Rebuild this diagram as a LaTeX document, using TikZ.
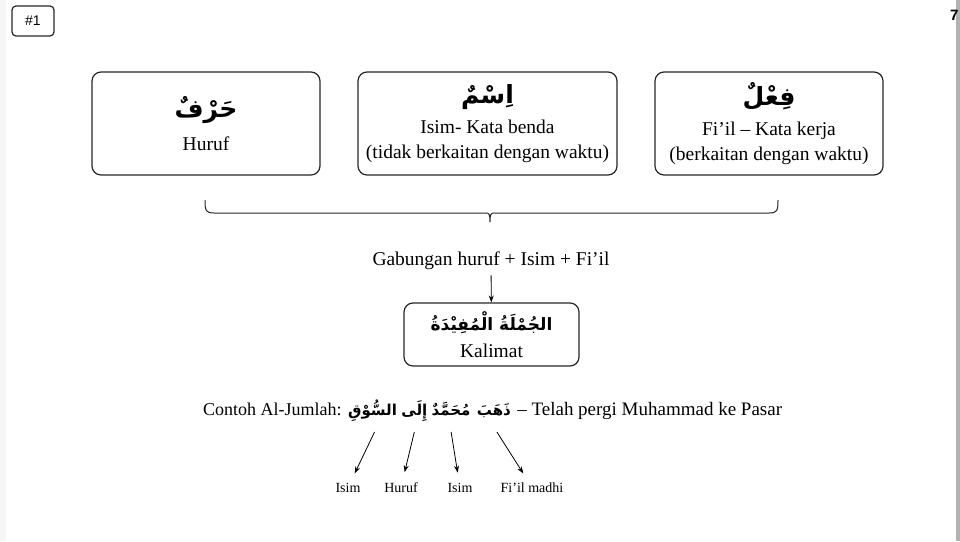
\documentclass[tikz,border=0pt]{standalone}
\usepackage{fontspec}
\usepackage{tikz}
\usetikzlibrary{arrows.meta}
\setmainfont{Liberation Serif}
\newfontfamily\arabicfont[Script=Arabic]{DejaVu Sans}
\newfontfamily\labelfont{Liberation Sans}
\TeXXeTstate=1
\newcommand{\arabbesar}{\arabicfont\bfseries\fontsize{25}{29}\selectfont}
\newcommand{\arabsedang}{\arabicfont\bfseries\fontsize{17}{20}\selectfont}
\newcommand{\arabkecil}{\arabicfont\bfseries\fontsize{15}{18}\selectfont}

\begin{document}
\begin{tikzpicture}
    [x=1pt,y=-1pt,
    kotak/.style={draw=black!85,line width=1.2pt,rounded corners=9pt,align=center,inner sep=0pt,font=\fontsize{19.5}{25}\selectfont},
    teks/.style={font=\fontsize{19.5}{22}\selectfont,inner sep=0pt},
    kata/.style={inner sep=0pt,anchor=base west,font=\arabkecil},
    kecil/.style={font=\fontsize{14}{16}\selectfont,inner sep=1pt},
    panah/.style={-{Stealth[length=7pt,width=5pt]},line width=0.8pt}]

\useasboundingbox (0,0) rectangle (960,541);

%page edges
\fill[gray!7] (0,0) rectangle (6,541);
\fill[gray!60] (956,0) rectangle (960,541);
\node[anchor=west,inner sep=0pt,font=\labelfont\bfseries\fontsize{15}{15}\selectfont] (hlm) at (950,15) {7};

%slide number
\node[draw=black!85,line width=1.2pt,rounded corners=4pt,minimum width=42pt,minimum height=30pt,inner sep=0pt,font=\labelfont\fontsize{14}{16}\selectfont] (nomor) at (33,21) {\#1};

%three kinds of word
\node[kotak,minimum width=228pt,minimum height=103pt] (harf) at (206,123.5)
    {{\arabbesar\beginR حَرْفٌ\endR}\\[8pt]Huruf};
\node[kotak,minimum width=259pt,minimum height=103pt] (ism) at (487.5,123.5)
    {{\arabbesar\beginR اِسْمٌ\endR}\\[5pt]Isim- Kata benda\\(tidak berkaitan dengan waktu)};
\node[kotak,minimum width=228pt,minimum height=103pt] (fiil) at (769,123.5)
    {{\arabbesar\beginR فِعْلٌ\endR}\\[5pt]Fi’il – Kata kerja\\(berkaitan dengan waktu)};

%brace under the boxes
\draw[line width=1pt,black!85] (205,200) .. controls (205,211) and (206,213) .. (214,213)
    -- (486,213) .. controls (489,213) and (490,214) .. (490,222)
    .. controls (490,214) and (491,213) .. (494,213)
    -- (769,213) .. controls (777,213) and (778,211) .. (778,200);

%result
\node[teks,anchor=base] (gabungan) at (491,265) {Gabungan huruf + Isim + Fi’il};
\node[kotak,minimum width=175pt,minimum height=63pt] (kalimat) at (491.5,334.5)
    {{\arabsedang\beginR الجُمْلَةُ الْمُفِيْدَةُ\endR}\\[2pt]Kalimat};
\draw[panah,shorten <=6pt] (gabungan) -- (kalimat);

%example sentence
\node[teks,anchor=base west,font=\fontsize{18}{22}\selectfont] (contoh) at (203,415) {Contoh Al-Jumlah:};
\node[kata] (w1) at ([xshift=6pt]contoh.base east) {\beginR السُّوْقِ\endR};
\node[kata] (w2) at ([xshift=4pt]w1.base east) {\beginR إِلَى\endR};
\node[kata] (w3) at ([xshift=4pt]w2.base east) {\beginR مُحَمَّدٌ\endR};
\node[kata] (w4) at ([xshift=6pt]w3.base east) {\beginR ذَهَبَ\endR};
\node[teks,anchor=base west,font=\fontsize{19}{22}\selectfont] (arti) at ([xshift=6pt]w4.base east) {– Telah pergi Muhammad ke Pasar};

%word classes
\node[kecil,anchor=base] (lbl1) at (348,492) {Isim};
\node[kecil,anchor=base] (lbl2) at (401,492) {Huruf};
\node[kecil,anchor=base] (lbl3) at (460,492) {Isim};
\node[kecil,anchor=base] (lbl4) at (532,492) {Fi’il madhi};

\draw[panah,shorten >=9pt] (w1.base) ++(2,17) -- (lbl1);
\draw[panah,shorten >=9pt] (w2.base) ++(0,17) -- (lbl2);
\draw[panah,shorten >=9pt] (w3.base) ++(0,17) -- (lbl3);
\draw[panah,shorten >=9pt] (w4.base) ++(3,17) -- (lbl4);

\end{tikzpicture}
\end{document}
